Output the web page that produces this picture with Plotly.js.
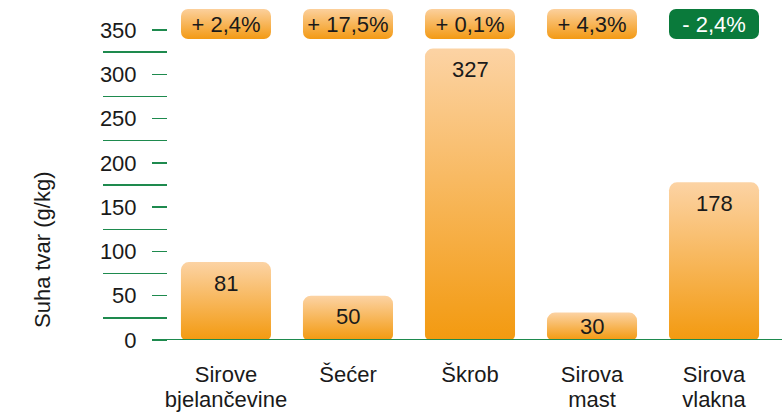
<!DOCTYPE html>
<html>
<head>
<meta charset="utf-8">
<script src="https://cdn.plot.ly/plotly-3.0.1.min.js"></script>
<style>html,body{margin:0;padding:0;background:#fff;}#chart{width:782px;height:413px;}</style>
</head>
<body>
<div id="chart"></div>
<script>
// Data
var categories = ["Sirove<br>bjelančevine", "Šećer", "Škrob", "Sirova<br>mast", "Sirova<br>vlakna"];
var barHeights = [88, 50, 329, 31, 178];          // drawn bar heights (g/kg)
var valueLabels = ["81", "50", "327", "30", "178"]; // printed values
var changeLabels = ["+ 2,4%", "+ 17,5%", "+ 0,1%", "+ 4,3%", "- 2,4%"];
var changeNegative = [false, false, false, false, true];
var yTicks = [0, 50, 100, 150, 200, 250, 300, 350];
var yMinor = [25, 75, 125, 175, 225, 275, 325];

var GREEN = "#1e8a4e";
var BADGE_GREEN = "#0a7a3b";
var TXT = "#1a1a1a";
var FONT = "Liberation Sans, Arial, sans-serif";
var FS = 22;

var plotH = 340, yMax = 383.9;
var pxPerUnit = plotH / yMax;

var annotations = [];
for (var i = 0; i < categories.length; i++) {
  annotations.push({
    xref: "x", yref: "y", x: categories[i], y: (plotH - 24) / pxPerUnit,
    text: changeLabels[i], showarrow: false,
    width: 90, height: 30, borderpad: 0, borderwidth: 0,
    bgcolor: changeNegative[i] ? BADGE_GREEN : "#f5a22c",
    font: {family: FONT, size: FS, color: changeNegative[i] ? "#ffffff" : TXT},
    xanchor: "center", yanchor: "middle"
  });
}
for (var j = 0; j < categories.length; j++) {
  var hpx = barHeights[j] * pxPerUnit;
  annotations.push({
    xref: "x", yref: "y", x: categories[j], y: barHeights[j],
    yshift: -Math.min(21, hpx / 2),
    text: valueLabels[j], showarrow: false,
    font: {family: FONT, size: FS, color: TXT},
    xanchor: "center", yanchor: "middle"
  });
}
annotations.push({
  xref: "paper", yref: "paper", x: (42 - 168) / 614, y: (340 - 250) / 340,
  text: "Suha tvar (g/kg)", textangle: -90, showarrow: false,
  font: {family: FONT, size: FS, color: TXT},
  xanchor: "center", yanchor: "middle"
});

var trace = {
  type: "bar",
  x: categories,
  y: barHeights,
  marker: {color: "#f6a63a", cornerradius: 8, line: {width: 0}},
  hoverinfo: "none"
};

var layout = {
  width: 782, height: 413,
  margin: {l: 168, r: 0, t: 0, b: 73, pad: 0},
  paper_bgcolor: "#ffffff", plot_bgcolor: "#ffffff",
  showlegend: false,
  bargap: 0.262,
  font: {family: FONT, size: FS, color: TXT},
  xaxis: {
    type: "category",
    range: [-0.475, 4.557],
    showline: false, showgrid: false, zeroline: false,
    ticks: "", ticklabelstandoff: 19,
    tickfont: {family: FONT, size: FS, color: TXT}
  },
  yaxis: {
    range: [0, yMax],
    tickvals: yTicks,
    ticktext: yTicks.map(String),
    ticks: "outside", ticklen: 15, tickwidth: 1.5, tickcolor: GREEN,
    ticklabelstandoff: 11,
    showline: false, showgrid: false, zeroline: false,
    tickfont: {family: FONT, size: FS, color: TXT},
    minor: {tickvals: yMinor, ticks: "outside", ticklen: 64, tickwidth: 1.5, tickcolor: GREEN, showgrid: false}
  },
  shapes: [{
    type: "line", xref: "paper", yref: "y",
    x0: -15 / 614, x1: 1, y0: 0, y1: 0,
    line: {color: GREEN, width: 2}
  }],
  annotations: annotations
};

Plotly.newPlot("chart", [trace], layout, {staticPlot: true, displayModeBar: false}).then(function (gd) {
  var svg = gd.querySelector("svg.main-svg");
  var defs = svg.querySelector("defs");
  var ns = "http://www.w3.org/2000/svg";
  function addGrad(id, top, bottom) {
    var g = document.createElementNS(ns, "linearGradient");
    g.setAttribute("id", id);
    g.setAttribute("x1", "0"); g.setAttribute("y1", "0");
    g.setAttribute("x2", "0"); g.setAttribute("y2", "1");
    [[0, top], [1, bottom]].forEach(function (s) {
      var st = document.createElementNS(ns, "stop");
      st.setAttribute("offset", s[0]);
      st.setAttribute("stop-color", s[1]);
      g.appendChild(st);
    });
    defs.appendChild(g);
  }
  addGrad("barGrad", "#fcd3a4", "#f39a10");
  addGrad("badgeGrad", "#fcd09c", "#f39a14");
  gd.querySelectorAll(".barlayer .point path").forEach(function (p) {
    // round all four corners using the bar box Plotly computed
    var b = p.getBBox();
    var r = 8, rb = 5;
    var x0 = b.x, x1 = b.x + b.width, y0 = b.y, y1 = b.y + b.height;
    var d = "M" + x0 + "," + (y0 + r) +
      "A" + r + "," + r + " 0 0 1 " + (x0 + r) + "," + y0 +
      "L" + (x1 - r) + "," + y0 +
      "A" + r + "," + r + " 0 0 1 " + x1 + "," + (y0 + r) +
      "L" + x1 + "," + (y1 - rb) +
      "A" + rb + "," + rb + " 0 0 1 " + (x1 - rb) + "," + y1 +
      "L" + (x0 + rb) + "," + y1 +
      "A" + rb + "," + rb + " 0 0 1 " + x0 + "," + (y1 - rb) + "Z";
    p.setAttribute("d", d);
    p.style.fill = "url(#barGrad)";
  });
  // tighter line spacing for two-line category labels
  gd.querySelectorAll(".xtick text tspan.line").forEach(function (t) {
    var dy = t.getAttribute("dy");
    if (dy && dy.indexOf("1.3em") === 0) t.setAttribute("dy", "1.14em");
  });
  for (var k = 0; k < categories.length; k++) {
    var rr = gd.querySelector('.annotation[data-index="' + k + '"] rect.bg');
    if (rr) {
      rr.setAttribute("rx", 7); rr.setAttribute("ry", 7);
      if (!changeNegative[k]) rr.style.fill = "url(#badgeGrad)";
    }
  }
});
</script>
</body>
</html>
